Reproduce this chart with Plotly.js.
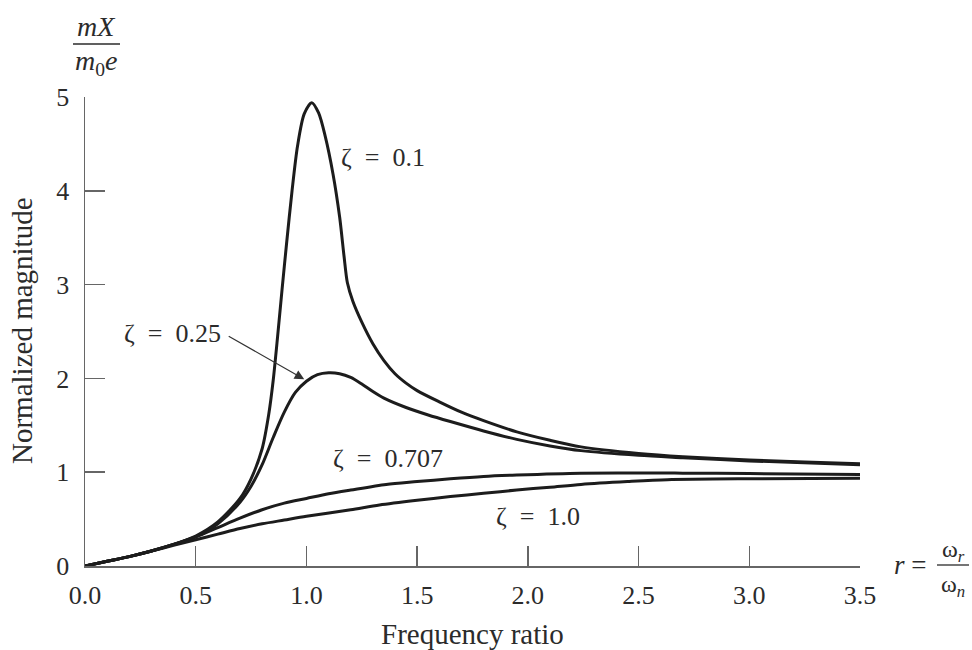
<!DOCTYPE html>
<html>
<head>
<meta charset="utf-8">
<script src="https://cdn.plot.ly/plotly-3.0.1.min.js"></script>
<style>html,body{margin:0;padding:0;background:#fff;}#chart{width:972px;height:650px;}</style>
</head>
<body>
<div id="chart"></div>
<script>
// Frequency ratio r and normalized magnitude
const rZ010 = [0, 0.1, 0.2, 0.3, 0.4, 0.5, 0.6, 0.7, 0.75, 0.8, 0.83, 0.85, 0.87, 0.89, 0.91, 0.935, 0.96, 0.99, 1.024, 1.055, 1.085, 1.12, 1.15, 1.17, 1.185, 1.21, 1.25, 1.3, 1.35, 1.4, 1.45, 1.5, 1.6, 1.7, 1.8, 1.95, 2.1, 2.24, 2.5, 2.7, 3.0, 3.25, 3.5];
const mZ010 = [0, 0.05, 0.1, 0.16, 0.23, 0.32, 0.47, 0.72, 0.93, 1.25, 1.62, 1.98, 2.45, 2.95, 3.43, 4.0, 4.48, 4.82, 4.94, 4.83, 4.58, 4.18, 3.72, 3.3, 3.02, 2.82, 2.6, 2.37, 2.19, 2.05, 1.95, 1.87, 1.75, 1.64, 1.55, 1.43, 1.34, 1.27, 1.2, 1.165, 1.13, 1.11, 1.09];

const rZ025 = [0, 0.1, 0.2, 0.3, 0.4, 0.5, 0.6, 0.7, 0.75, 0.8, 0.85, 0.9, 0.95, 1.0, 1.05, 1.1, 1.15, 1.2, 1.25, 1.3, 1.35, 1.45, 1.55, 1.65, 1.8, 1.95, 2.1, 2.24, 2.5, 2.7, 3.0, 3.5];
const mZ025 = [0, 0.05, 0.1, 0.16, 0.23, 0.31, 0.45, 0.68, 0.85, 1.08, 1.37, 1.64, 1.85, 1.97, 2.04, 2.06, 2.05, 2.01, 1.94, 1.86, 1.79, 1.69, 1.61, 1.54, 1.44, 1.35, 1.28, 1.23, 1.18, 1.155, 1.12, 1.08];

const rZ0707 = [0, 0.1, 0.2, 0.3, 0.4, 0.5, 0.6, 0.7, 0.8, 0.9, 1.0, 1.1, 1.2, 1.36, 1.5, 1.65, 1.8, 1.95, 2.24, 2.7, 3.0, 3.5];
const mZ0707 = [0, 0.05, 0.1, 0.16, 0.23, 0.31, 0.41, 0.51, 0.6, 0.67, 0.72, 0.77, 0.81, 0.87, 0.9, 0.93, 0.955, 0.97, 0.99, 0.99, 0.985, 0.975];

const rZ100 = [0, 0.1, 0.2, 0.3, 0.4, 0.5, 0.6, 0.7, 0.8, 0.9, 1.0, 1.2, 1.33, 1.5, 1.65, 1.8, 1.95, 2.1, 2.24, 2.45, 2.63, 3.0, 3.5];
const mZ100 = [0, 0.05, 0.1, 0.16, 0.22, 0.28, 0.34, 0.4, 0.45, 0.49, 0.53, 0.6, 0.65, 0.7, 0.74, 0.775, 0.81, 0.84, 0.87, 0.9, 0.92, 0.93, 0.935];

const xTickVals = [0, 0.5, 1.0, 1.5, 2.0, 2.5, 3.0, 3.5];
const xTickText = ['0.0', '0.5', '1.0', '1.5', '2.0', '2.5', '3.0', '3.5'];
const yTickVals = [0, 1, 2, 3, 4, 5];
const yTickText = ['0', '1', '2', '3', '4', '5'];

const FONT = '"Liberation Serif", "Times New Roman", serif';
const INK = '#1c1c1c';
const TXT = '#2b2b2b';
const AX = '#666666';

const L = 85, R = 860, T = 97, B = 566;
function px(x) { return (x - L) / (R - L); }
function py(y) { return (B - y) / (B - T); }

const lineStyle = {color: INK, width: 3, shape: 'spline', smoothing: 0.8};
const traces = [
  {x: rZ010, y: mZ010, mode: 'lines', line: lineStyle, name: 'ζ = 0.1', hoverinfo: 'skip'},
  {x: rZ025, y: mZ025, mode: 'lines', line: lineStyle, name: 'ζ = 0.25', hoverinfo: 'skip'},
  {x: rZ0707, y: mZ0707, mode: 'lines', line: lineStyle, name: 'ζ = 0.707', hoverinfo: 'skip'},
  {x: rZ100, y: mZ100, mode: 'lines', line: lineStyle, name: 'ζ = 1.0', hoverinfo: 'skip'}
];

const sp = '\u00a0';
function zlab(v) { return 'ζ' + sp + sp + '=' + sp + sp + v; }

function paperText(text, x, y, size, extra) {
  return Object.assign({xref: 'paper', yref: 'paper', x: px(x), y: py(y), text: text, showarrow: false,
    xanchor: 'center', yanchor: 'middle', font: {family: FONT, size: size, color: TXT}}, extra || {});
}

const zfont = {family: FONT, size: 26, color: TXT};
const annotations = [
  {x: 1.345, y: 4.36, xref: 'x', yref: 'y', text: zlab('0.1'), showarrow: false, font: zfont},
  {x: 0.397, y: 2.48, xref: 'x', yref: 'y', text: zlab('0.25'), showarrow: false, font: zfont},
  {x: 1.369, y: 1.15, xref: 'x', yref: 'y', text: zlab('0.707'), showarrow: false, font: zfont},
  {x: 2.044, y: 0.525, xref: 'x', yref: 'y', text: zlab('1.0'), showarrow: false, font: zfont},
  {x: 0.99, y: 1.99, xref: 'x', yref: 'y', text: '', showarrow: true, ax: -77, ay: -44,
    arrowhead: 2, arrowsize: 1.6, arrowwidth: 1.2, arrowcolor: '#333', standoff: 0},
  paperText('<i>mX</i>', 96, 26, 28),
  paperText('<i>m</i><sub>0</sub><i>e</i>', 96, 62, 28),
  paperText('Normalized magnitude', 22, 331, 29, {textangle: -90}),
  paperText('Frequency ratio', 472, 634, 29),
  paperText('<i>r</i>' + sp + '=', 910, 565, 27),
  paperText('ω<sub><i>r</i></sub>', 953, 551, 24),
  paperText('ω<sub><i>n</i></sub>', 953, 586, 24)
];

const shapes = [
  {type: 'line', xref: 'paper', yref: 'paper', x0: px(73), x1: px(120), y0: py(44), y1: py(44), line: {color: TXT, width: 1.5}},
  {type: 'line', xref: 'paper', yref: 'paper', x0: px(937), x1: px(969), y0: py(565), y1: py(565), line: {color: TXT, width: 1.3}}
];

const layout = {
  width: 972, height: 650,
  margin: {l: L, r: 972 - R, t: T, b: 650 - B, pad: 0},
  paper_bgcolor: '#ffffff', plot_bgcolor: '#ffffff',
  showlegend: false,
  xaxis: {
    range: [0, 3.5], tickvals: xTickVals, ticktext: xTickText,
    showgrid: false, zeroline: false, showline: true, linecolor: AX, linewidth: 1.5,
    ticks: 'inside', ticklen: 20, tickwidth: 1.5, tickcolor: AX,
    tickfont: {family: FONT, size: 26, color: TXT}, ticklabelstandoff: 5, fixedrange: true
  },
  yaxis: {
    range: [0, 5], tickvals: yTickVals, ticktext: yTickText,
    showgrid: false, zeroline: false, showline: true, linecolor: AX, linewidth: 1.5,
    ticks: 'inside', ticklen: 20, tickwidth: 1.5, tickcolor: AX,
    tickfont: {family: FONT, size: 26, color: TXT}, ticklabelstandoff: 9, fixedrange: true
  },
  annotations: annotations,
  shapes: shapes
};

Plotly.newPlot('chart', traces, layout, {staticPlot: true, displayModeBar: false});
</script>
</body>
</html>
